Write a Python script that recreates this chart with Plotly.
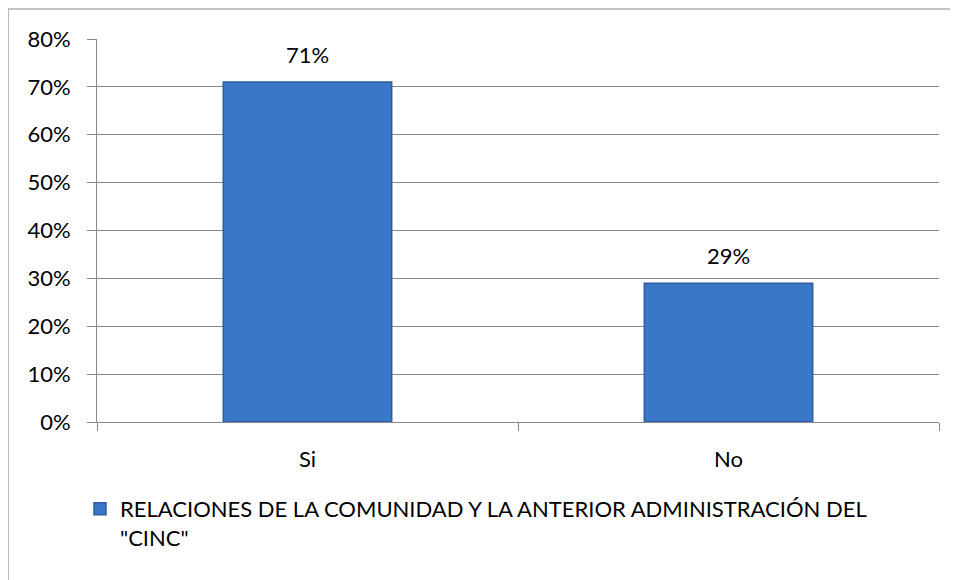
"""Bar chart: relaciones de la comunidad y la anterior administración del CINC."""

import plotly.graph_objects as go

# ---------------------------------------------------------------------------
# Data
# ---------------------------------------------------------------------------

categories = ["Si", "No"]
values = [0.71, 0.29]
value_labels = ["71%", "29%"]
series_name = 'RELACIONES DE LA COMUNIDAD Y LA ANTERIOR ADMINISTRACIÓN DEL<br>"CINC"'
y_ticks = [0, 0.1, 0.2, 0.3, 0.4, 0.5, 0.6, 0.7, 0.8]
y_tick_labels = ["0%", "10%", "20%", "30%", "40%", "50%", "60%", "70%", "80%"]

# ---------------------------------------------------------------------------
# Styling
# ---------------------------------------------------------------------------

_FONT = "Lato, 'Open Sans', sans-serif"
_SIZE = 22
_BAR_COLOR = "#3a77c6"
_BAR_EDGE = "#2d5f9f"
_GRID = "#888888"

# plot area in figure pixels (page adds an 8px body margin)
_L, _R, _T, _B = 89, 931, 31, 414
_W, _H = 958, 580

fig = go.Figure()
fig.add_trace(
    go.Bar(
        x=categories,
        y=values,
        name=series_name,
        marker={"color": _BAR_COLOR, "line": {"color": _BAR_EDGE, "width": 1.5}},
        width=0.4,
        showlegend=True,
    )
)

for cat, val, lab in zip(categories, values, value_labels):
    fig.add_annotation(
        x=cat,
        y=val,
        text=lab,
        showarrow=False,
        yanchor="bottom",
        yshift=12,
        font={"family": _FONT, "size": _SIZE, "color": "#000000"},
    )

# outer chart border (left and top edges visible, rest cut off)
pw, ph = _R - _L, _B - _T
fig.add_shape(
    type="rect",
    xref="paper",
    yref="paper",
    x0=(0 - _L) / pw,
    x1=(_W + 5 - _L) / pw,
    y0=(_B - (_H + 5)) / ph,
    y1=(_B - 1) / ph,
    line={"color": "#8a8a8a", "width": 1.2},
    layer="below",
)

fig.update_layout(
    width=_W,
    height=_H,
    margin={"l": _L, "r": _W - _R, "t": _T, "b": _H - _B},
    paper_bgcolor="white",
    plot_bgcolor="white",
    font={"family": _FONT, "size": _SIZE, "color": "#000000"},
    legend={
        "orientation": "h",
        "x": (72 - _L) / pw,
        "xanchor": "left",
        "y": (_B - 480) / ph,
        "yanchor": "top",
        "valign": "top",
        "font": {"family": _FONT, "size": _SIZE},
        "itemwidth": 30,
    },
    xaxis={
        "showline": True,
        "linecolor": _GRID,
        "ticks": "outside",
        "tickson": "boundaries",
        "ticklen": 8,
        "tickcolor": _GRID,
        "showgrid": False,
        "ticklabelstandoff": 18,
    },
    yaxis={
        "range": [0, 0.8],
        "tickvals": y_ticks,
        "ticktext": y_tick_labels,
        "showline": True,
        "linecolor": _GRID,
        "ticks": "outside",
        "ticklen": 9,
        "tickcolor": _GRID,
        "showgrid": True,
        "gridcolor": _GRID,
        "gridwidth": 1,
        "zeroline": False,
        "ticklabelstandoff": 12,
    },
)

fig.write_html("out.html")
